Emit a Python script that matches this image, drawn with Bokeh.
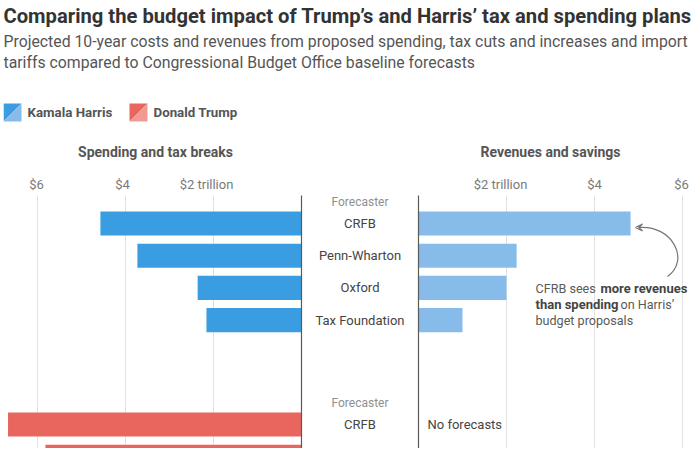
from bokeh.plotting import figure
from bokeh.models import Range1d, Label, Arrow, VeeHead, ColumnDataSource
from bokeh.core.properties import value
from bokeh.embed import file_html
from bokeh.resources import INLINE

# ---------------- data ----------------
harris_forecasters = ["CRFB", "Penn-Wharton", "Oxford", "Tax Foundation"]
harris_spending = [4.57, 3.73, 2.36, 2.16]      # $ trillion, spending and tax breaks
harris_revenues = [4.82, 2.23, 2.00, 1.00]      # $ trillion, revenues and savings
trump_forecasters = ["CRFB", "Penn-Wharton"]
trump_spending = [6.67, 5.82]
tick_values = [2, 4, 6]
tick_labels = ["$2 trillion", "$4", "$6"]

# ---------------- layout constants ----------------
FIG_W, FIG_H = 695, 445
ORIGIN = 3                     # page px where the figure starts (x and y)
PX_T = 44.0                    # px per trillion
LEFT_ZERO = 301 - ORIGIN
RIGHT_ZERO = 418 - ORIGIN
ROW_PX = 32.2
ROW0 = 223 - ORIGIN
RIGHT_OFF = (RIGHT_ZERO - LEFT_ZERO) / PX_T
BAR_H = 0.75


def X(px):
    return (px - ORIGIN - LEFT_ZERO) / PX_T


def Y(py):
    return (py - ORIGIN - ROW0) / ROW_PX


TRUMP_ROW0 = Y(424)
LINE_TOP = Y(195)
BOTTOM = (FIG_H - ROW0) / ROW_PX

FONT = "Roboto"
DARK_BLUE = "#3b9de1"
LIGHT_BLUE = "#87bcea"
RED = "#e9665e"
LIGHT_RED = "#f29a92"

p = figure(width=FIG_W, height=FIG_H, output_backend="svg", toolbar_location=None,
           x_range=Range1d(-LEFT_ZERO / PX_T, (FIG_W - LEFT_ZERO) / PX_T),
           y_range=Range1d(BOTTOM, -ROW0 / ROW_PX),
           x_axis_location=None, y_axis_location=None, min_border=0,
           outline_line_color=None, background_fill_color="white",
           margin=(ORIGIN, 0, 0, ORIGIN))
p.grid.visible = False

# ---------------- gridlines ----------------
gx = [-t for t in tick_values] + [RIGHT_OFF + t for t in tick_values]
p.segment(x0=gx, x1=gx, y0=[LINE_TOP] * len(gx), y1=[BOTTOM + 1] * len(gx),
          line_color="#e2e2e2", line_width=1)

# ---------------- bars ----------------
h_rows = list(range(len(harris_forecasters)))
p.hbar(y=h_rows, left=[-v for v in harris_spending], right=0, height=BAR_H,
       fill_color=DARK_BLUE, line_color=None)
p.hbar(y=h_rows, left=RIGHT_OFF, right=[RIGHT_OFF + v for v in harris_revenues],
       height=BAR_H, fill_color=LIGHT_BLUE, line_color=None)
t_rows = [TRUMP_ROW0 + i for i in range(len(trump_forecasters))]
p.hbar(y=t_rows, left=[-v for v in trump_spending], right=0, height=BAR_H,
       fill_color=RED, line_color=None)

# zero lines
p.segment(x0=[0, RIGHT_OFF], x1=[0, RIGHT_OFF], y0=[LINE_TOP] * 2, y1=[BOTTOM + 1] * 2,
          line_color="#5a5a5a", line_width=1.2)

# ---------------- row labels ----------------
mid = RIGHT_OFF / 2
p.text(x=[mid] * len(h_rows), y=h_rows, text=harris_forecasters,
       text_align="center", text_baseline="middle", text_font=value(FONT),
       text_font_size="13px", text_color="#444444")
# only rows whose label falls inside the visible (cropped) area
vis = [(r, f) for r, f in zip(t_rows, trump_forecasters) if r + 0.3 < BOTTOM]
p.text(x=[mid] * len(vis), y=[r for r, _ in vis], text=[f for _, f in vis],
       text_align="center", text_baseline="middle", text_font=value(FONT),
       text_font_size="13px", text_color="#444444")
p.text(x=[mid, mid], y=[Y(201), TRUMP_ROW0 + Y(201)], text=["Forecaster", "Forecaster"],
       text_align="center", text_baseline="middle", text_font=value(FONT),
       text_font_size="12px", text_color="#8f8f8f")
p.text(x=[RIGHT_OFF], y=[TRUMP_ROW0], text=["No forecasts"], x_offset=9,
       text_align="left", text_baseline="middle", text_font=value(FONT),
       text_font_size="13px", text_color="#444444")

# ---------------- tick labels ----------------
tsrc = ColumnDataSource(dict(
    x=[-t for t in tick_values] + [RIGHT_OFF + t for t in tick_values],
    y=[Y(184)] * 6,
    text=tick_labels + tick_labels,
    dx=[-7, -3, -1] + [-6, 0, -1],
))
p.text(x="x", y="y", text="text", x_offset="dx", source=tsrc,
       text_align="center", text_baseline="middle", text_font=value(FONT),
       text_font_size="13px", text_color="#7a7a7a")

# ---------------- section headers ----------------
for txt, cx in [("Spending and tax breaks", X(155)), ("Revenues and savings", X(550))]:
    p.add_layout(Label(x=cx, y=Y(151), text=txt, text_align="center",
                       text_baseline="middle", text_font=FONT, text_font_style="bold",
                       text_font_size="14px", text_color="#555555"))

# ---------------- title / subtitle ----------------
p.add_layout(Label(x=X(3), y=Y(15), text="Comparing the budget impact of Trump\u2019s and Harris\u2019 tax and spending plans",
                   text_baseline="middle", text_font=FONT, text_font_style="bold",
                   text_font_size="20.2px", text_color="#333333"))
for ln, yy in [("Projected 10-year costs and revenues from proposed spending, tax cuts and increases and import", 41),
               ("tariffs compared to Congressional Budget Office baseline forecasts", 62)]:
    p.add_layout(Label(x=X(3), y=Y(yy), text=ln, text_baseline="middle", text_font=FONT,
                       text_font_size="15.8px", text_color="#555555"))

# ---------------- legend ----------------
for x0, dark, light, name in [(3, DARK_BLUE, LIGHT_BLUE, "Kamala Harris"),
                              (129, RED, LIGHT_RED, "Donald Trump")]:
    xa, xb, ya, yb = X(x0), X(x0 + 18), Y(103), Y(121)
    p.patches(xs=[[xa, xb, xa], [xb, xb, xa]], ys=[[ya, ya, yb], [ya, yb, yb]],
              fill_color=[dark, light], line_color=None)
    p.add_layout(Label(x=X(x0 + 24), y=Y(112), text=name, text_baseline="middle",
                       text_font=FONT, text_font_style="bold", text_font_size="13.3px",
                       text_color="#555555"))

# ---------------- annotation ----------------
ann = "#5a5a5a"
p.add_layout(Label(x=X(535), y=Y(288), text="CFRB sees", text_baseline="middle",
                   text_font=FONT, text_font_size="12.6px", text_color=ann))
p.add_layout(Label(x=X(600), y=Y(288), text="more revenues", text_baseline="middle",
                   text_font=FONT, text_font_style="bold", text_font_size="13px", text_color="#444444"))
p.add_layout(Label(x=X(535), y=Y(304), text="than spending", text_baseline="middle",
                   text_font=FONT, text_font_style="bold", text_font_size="13px", text_color="#444444"))
p.add_layout(Label(x=X(620), y=Y(304), text="on Harris\u2019", text_baseline="middle",
                   text_font=FONT, text_font_size="12.6px", text_color=ann))
p.add_layout(Label(x=X(535), y=Y(320), text="budget proposals", text_baseline="middle",
                   text_font=FONT, text_font_size="12.6px", text_color=ann))

p.bezier(x0=[X(667)], y0=[Y(276)], x1=[X(638)], y1=[Y(227)],
         cx0=[X(690)], cy0=[Y(260)], cx1=[X(672)], cy1=[Y(224)],
         line_color="#777777", line_width=1.2)
p.add_layout(Arrow(end=VeeHead(size=7, line_color="#777777", line_width=1.2, fill_color=None),
                   x_start=X(642), y_start=Y(227), x_end=X(635), y_end=Y(227),
                   line_color="#777777", line_width=1.2))

open("out.html", "w").write(file_html(p, INLINE))
